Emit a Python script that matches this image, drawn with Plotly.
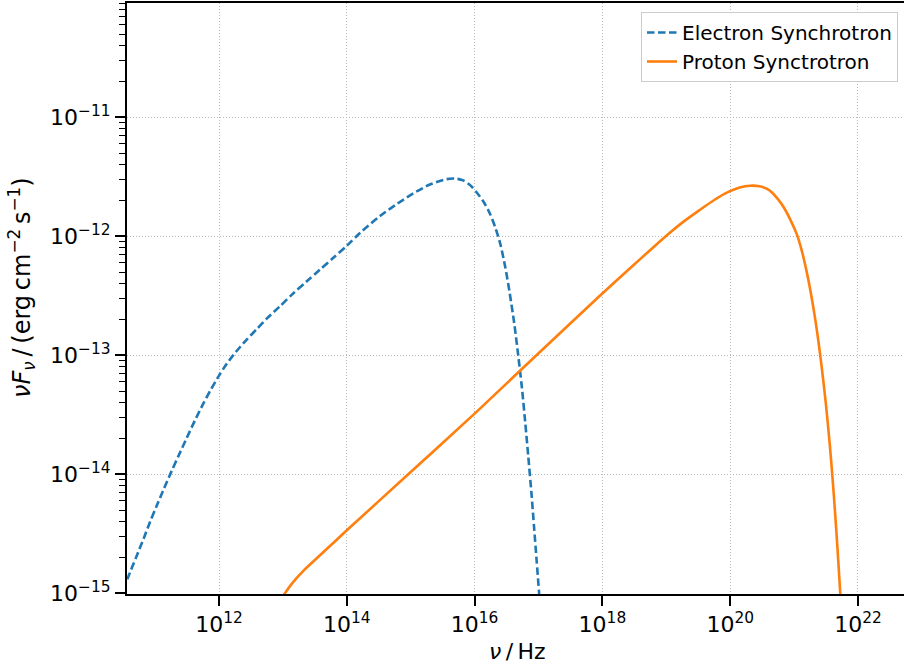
import numpy as np
import plotly.graph_objects as go

# Spectral energy distribution, stored as log10 values
log_nu_electron = [10.50, 10.58, 10.70, 10.82, 10.92, 11.02, 11.13, 11.26, 11.37, 11.49,
                   11.62, 11.75, 11.86, 12.00, 12.11, 12.22, 12.33, 12.43, 12.59, 12.75,
                   12.95, 13.16, 13.37, 13.58, 13.79, 14.00, 14.21, 14.52, 14.78, 15.04,
                   15.30, 15.56, 15.69, 15.82, 15.93, 16.03, 16.14, 16.24, 16.32, 16.40,
                   16.48, 16.55, 16.62, 16.68, 16.74, 16.79, 16.84, 16.89, 16.93, 16.97,
                   17.01, 17.05]
log_flux_electron = [-14.97, -14.86, -14.70, -14.54, -14.40, -14.27, -14.13, -13.97, -13.84, -13.70,
                     -13.55, -13.41, -13.30, -13.17, -13.08, -13.00, -12.93, -12.87, -12.78, -12.69,
                     -12.59, -12.48, -12.38, -12.28, -12.18, -12.08, -11.97, -11.83, -11.73, -11.64,
                     -11.565, -11.52, -11.515, -11.53, -11.57, -11.63, -11.71, -11.81, -11.92, -12.06,
                     -12.26, -12.48, -12.73, -12.99, -13.27, -13.55, -13.85, -14.16, -14.44, -14.72,
                     -15.00, -15.28]

log_nu_proton = [12.95, 13.03, 13.16, 13.32, 13.58, 14.00, 14.94, 16.00, 16.71, 17.96,
                 18.48, 18.75, 19.00, 19.25, 19.52, 19.75, 19.98, 20.15, 20.31, 20.46,
                 20.57, 20.67, 20.75, 20.83, 20.95, 21.04, 21.12, 21.19, 21.25, 21.32,
                 21.38, 21.43, 21.50, 21.56, 21.60, 21.64, 21.68, 21.72, 21.76]
log_flux_proton = [-15.07, -15.00, -14.905, -14.81, -14.68, -14.47, -14.01, -13.49, -13.13, -12.50,
                   -12.245, -12.115, -11.995, -11.885, -11.78, -11.695, -11.625, -11.59, -11.575, -11.58,
                   -11.60, -11.64, -11.69, -11.75, -11.87, -11.98, -12.12, -12.28, -12.44, -12.66,
                   -12.88, -13.09, -13.42, -13.76, -14.02, -14.31, -14.63, -14.98, -15.36]

x_tick_exp = [12, 14, 16, 18, 20, 22]
y_tick_exp = [-15, -14, -13, -12, -11]

FONT = "DejaVu Sans"

fig = go.Figure()
fig.add_trace(go.Scatter(
    x=10 ** np.array(log_nu_electron), y=10 ** np.array(log_flux_electron),
    mode="lines", name="Electron Synchrotron",
    line=dict(color="#1f77b4", width=2.6, dash="7.5px,3.5px", shape="spline", smoothing=0.8),
))
fig.add_trace(go.Scatter(
    x=10 ** np.array(log_nu_proton), y=10 ** np.array(log_flux_proton),
    mode="lines", name="Proton Synctrotron",
    line=dict(color="#ff7f0e", width=2.6, shape="spline", smoothing=0.8),
))

y_minor = [k * 10.0 ** e for e in range(-15, -10) for k in range(2, 10)]

grid_style = dict(showgrid=True, gridcolor="#b8b8b8", gridwidth=1, griddash="1px,2px")

fig.update_xaxes(
    type="log", range=[10.56, 22.72],
    tickvals=[10.0 ** e for e in x_tick_exp],
    ticktext=[f"10<sup>{e}</sup>" for e in x_tick_exp],
    ticks="outside", ticklen=10, tickwidth=2, tickcolor="black",
    showline=True, linewidth=2, linecolor="black", mirror=True,
    zeroline=False, tickfont=dict(family=FONT, size=22, color="black"),
    **grid_style,
)
fig.update_yaxes(
    type="log", range=[-15.005, -10.04],
    tickvals=[10.0 ** e for e in y_tick_exp],
    ticktext=[f"10<sup>\u2212{abs(e)}</sup>" for e in y_tick_exp],
    ticks="outside", ticklen=10, tickwidth=2, tickcolor="black",
    minor=dict(tickvals=y_minor, ticks="outside", ticklen=6, tickwidth=1.3,
               tickcolor="black", showgrid=False),
    showline=True, linewidth=2, linecolor="black",
    zeroline=False, tickfont=dict(family=FONT, size=22, color="black"),
    **grid_style,
)

fig.add_annotation(
    text="<i>ν</i>\u2009/\u2009Hz", xref="paper", yref="paper",
    x=(517 - 127) / 777, y=-(651 - 594) / 591, xanchor="center", yanchor="middle",
    showarrow=False, font=dict(family=FONT, size=22, color="black"),
)
fig.add_annotation(
    text="<i>νF</i><sub><i>ν</i></sub>\u2009/\u2009(erg\u2009cm<sup>\u22122</sup>\u2009s<sup>\u22121</sup>)",
    xref="paper", yref="paper", textangle=-90,
    x=(21 - 127) / 777, y=(594 - 288) / 591, xanchor="center", yanchor="middle",
    showarrow=False, font=dict(family=FONT, size=24, color="black"),
)

fig.update_layout(
    width=904, height=670,
    margin=dict(l=127, r=0, t=3, b=76),
    paper_bgcolor="white", plot_bgcolor="white",
    font=dict(family=FONT, color="black"),
    legend=dict(
        x=(898 - 127) / 777, y=(594 - 12) / 591, xanchor="right", yanchor="top",
        bgcolor="white", bordercolor="#cccccc", borderwidth=1,
        font=dict(family=FONT, size=20, color="black"),
        tracegroupgap=0,
    ),
    showlegend=True,
)

fig.write_html("out.html")
